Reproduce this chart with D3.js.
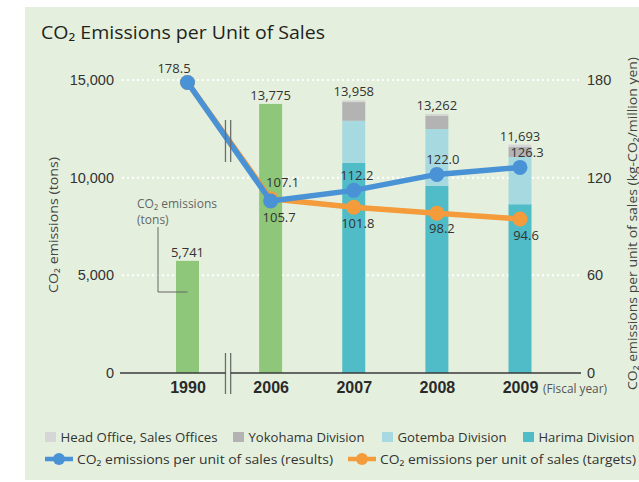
<!DOCTYPE html>
<html><head><meta charset="utf-8">
<script src="https://cdn.jsdelivr.net/npm/d3@7"></script>
<style>html,body{margin:0;padding:0;background:#fff;} svg{display:block;font-family:"Open Sans","Noto Sans",sans-serif;}</style>
</head><body><svg id="chart" width="639" height="482"></svg>
<script>
// ---------- data ----------
const categories = ["1990", "2006", "2007", "2008", "2009"];
const totalEmissions = [5741, 13775, 13958, 13262, 11693];
const singleBar = [5741, 13775, null, null, null];
const harima = [0, 0, 10760, 9590, 8640];
const gotemba = [0, 0, 2150, 2900, 2420];
const yokohama = [0, 0, 960, 683, 510];
const headOffice = [0, 0, 88, 89, 123];
const resultsPerSales = [178.5, 105.7, 112.2, 122.0, 126.3];
const targetsPerSales = [178.5, 107.1, 101.8, 98.2, 94.6];
const leftTicks = [0, 5000, 10000, 15000];
const rightTicks = [0, 60, 120, 180];
const legendBars = ["Head Office, Sales Offices", "Yokohama Division", "Gotemba Division", "Harima Division"];
const legendLines = ["CO\u2082 emissions per unit of sales (results)", "CO\u2082 emissions per unit of sales (targets)"];

// ---------- styles / layout ----------
const colors = {
  bg: "#e4f0dd", green: "#8ec77a", harima: "#4fbcc8", gotemba: "#a6d9e0",
  yokohama: "#b3b3b3", head: "#d6d6d6", blue: "#4a92d6", orange: "#f49b3b",
  text: "#333", dark: "#231f20"
};
const svg = d3.select("#chart");
const W = 639, H = 482;
const x = d3.scalePoint().domain(categories).range([187.5, 520]);
const yL = d3.scaleLinear().domain([0, 15000]).range([373, 80]);
const yR = d3.scaleLinear().domain([0, 180]).range([373, 80]);
const barW = 23;
const plotL = 120, plotR = 581;

function fit(sel, len) { return sel.attr("textLength", len).attr("lengthAdjust", "spacingAndGlyphs"); }

// panel
svg.append("rect").attr("x", 25).attr("y", 7).attr("width", W - 25).attr("height", 473).attr("fill", colors.bg);

// title
fit(svg.append("text").attr("x", 41).attr("y", 39.3).attr("font-size", 17.5).attr("fill", colors.dark)
  .text("CO\u2082 Emissions per Unit of Sales"), 284);

// gridlines
svg.append("g").selectAll("line").data(leftTicks.filter(d => d > 0)).join("line")
  .attr("x1", plotL + 2).attr("x2", plotR).attr("y1", d => yL(d)).attr("y2", d => yL(d))
  .attr("stroke", "#fff").attr("stroke-width", 2).attr("stroke-dasharray", "2,3");

// single bars (1990, 2006)
svg.append("g").selectAll("rect").data(categories.map((c, i) => ({ c, v: singleBar[i] })).filter(d => d.v != null))
  .join("rect").attr("x", d => x(d.c) - barW / 2).attr("width", barW)
  .attr("y", d => yL(d.v)).attr("height", d => yL(0) - yL(d.v)).attr("fill", colors.green);

// stacked bars (2007-2009)
const rows = categories.map((c, i) => ({ c, harima: harima[i], gotemba: gotemba[i], yokohama: yokohama[i], head: headOffice[i] }))
  .filter(r => r.harima > 0);
const keys = ["harima", "gotemba", "yokohama", "head"];
const stack = d3.stack().keys(keys)(rows);
svg.append("g").selectAll("g").data(stack).join("g").attr("fill", d => colors[d.key])
  .selectAll("rect").data(d => d).join("rect")
  .attr("x", d => x(d.data.c) - barW / 2).attr("width", barW)
  .attr("y", d => yL(d[1])).attr("height", d => yL(d[0]) - yL(d[1]));

// lines
const lineGen = d3.line().x((d, i) => x(categories[i])).y(d => yR(d));
function drawSeries(vals, color) {
  svg.append("path").datum(vals).attr("d", lineGen).attr("fill", "none")
    .attr("stroke", color).attr("stroke-width", 5.5).attr("stroke-linejoin", "round");
  svg.append("g").selectAll("circle").data(vals).join("circle")
    .attr("cx", (d, i) => x(categories[i])).attr("cy", d => yR(d)).attr("r", 7.5).attr("fill", color);
}
drawSeries(targetsPerSales, colors.orange);
drawSeries(resultsPerSales, colors.blue);

// break marks
const brk = (x(categories[0]) + x(categories[1])) / 2 - 1;
[[120, 162], [353, 394]].forEach(([a, b]) => {
  if (a > 300) svg.append("rect").attr("x", brk - 2.6).attr("y", a).attr("width", 5.2).attr("height", b - a).attr("fill", colors.bg);
  [-2.6, 2.6].forEach(o => svg.append("line").attr("x1", brk + o).attr("x2", brk + o).attr("y1", a).attr("y2", b)
    .attr("stroke", "#6d6d6d").attr("stroke-width", 1.3));
});

// baseline (with break gap)
svg.append("line").attr("x1", plotL).attr("x2", brk - 2.6).attr("y1", yL(0)).attr("y2", yL(0)).attr("stroke", "#3a3a3a").attr("stroke-width", 1.5);
svg.append("line").attr("x1", brk + 2.6).attr("x2", plotR).attr("y1", yL(0)).attr("y2", yL(0)).attr("stroke", "#3a3a3a").attr("stroke-width", 1.5);

// axes
const axL = svg.append("g").attr("transform", `translate(${plotL - 1},0)`)
  .call(d3.axisLeft(yL).tickValues(leftTicks).tickSize(0).tickPadding(5).tickFormat(d3.format(",")));
const axR = svg.append("g").attr("transform", `translate(${plotR},0)`)
  .call(d3.axisRight(yR).tickValues(rightTicks).tickSize(0).tickPadding(6));
const axB = svg.append("g").attr("transform", `translate(0,${yL(0)})`)
  .call(d3.axisBottom(x).tickSize(0).tickPadding(9));
[axL, axR, axB].forEach(a => { a.select(".domain").remove(); a.selectAll("text").attr("fill", colors.text).attr("font-family", null); });
axL.selectAll("text").attr("font-size", 14.5);
axR.selectAll("text").attr("font-size", 14.5);
axB.selectAll("text").attr("font-size", 16).attr("font-weight", "bold").attr("fill", "#2a2a2a");

fit(svg.append("text").attr("x", 543).attr("y", 393).attr("font-size", 12).attr("fill", "#555").text("(Fiscal year)"), 64);

// axis titles
fit(svg.append("text").attr("transform", "translate(57.5,225) rotate(-90)").attr("text-anchor", "middle")
  .attr("font-size", 13.5).attr("fill", "#444").text("CO\u2082 emissions (tons)"), 136);
fit(svg.append("text").attr("transform", "translate(636.5,223.5) rotate(-90)").attr("text-anchor", "middle")
  .attr("font-size", 13.5).attr("fill", "#444").text("CO\u2082 emissions per unit of sales (kg-CO\u2082/million yen)"), 333);

// annotation
fit(svg.append("text").attr("x", 137).attr("y", 208).attr("font-size", 12).attr("fill", "#666").text("CO\u2082 emissions"), 80);
svg.append("text").attr("x", 137).attr("y", 224).attr("font-size", 12).attr("fill", "#666").text("(tons)");
svg.append("polyline").attr("points", `158,227 158,292 ${x(categories[0])},292`).attr("fill", "none").attr("stroke", "#666").attr("stroke-width", 1);

// total labels
const fmt = d3.format(",");
svg.append("g").selectAll("text").data(totalEmissions).join("text")
  .attr("x", (d, i) => x(categories[i])).attr("y", d => yL(d) - 4).attr("text-anchor", "middle")
  .attr("font-size", 13).attr("fill", colors.text).text(d => fmt(d));

// per-sales labels
const resOffsets = [[-13.5, -9.5], [8.5, 21], [3, -10], [6, -10.5], [7, -10.5]];
const tgtOffsets = [null, [12, -11.7], [4, 20.7], [5, 20], [6, 21]];
const f1 = d3.format(".1f");
svg.append("g").selectAll("text").data(resultsPerSales).join("text")
  .attr("x", (d, i) => x(categories[i]) + resOffsets[i][0]).attr("y", d => yR(d)).attr("dy", (d, i) => resOffsets[i][1])
  .attr("text-anchor", "middle").attr("font-size", 13).attr("fill", colors.text).text(d => f1(d));
svg.append("g").selectAll("text").data(targetsPerSales.map((v, i) => ({ v, i })).filter(d => tgtOffsets[d.i])).join("text")
  .attr("x", d => x(categories[d.i]) + tgtOffsets[d.i][0]).attr("y", d => yR(d.v)).attr("dy", d => tgtOffsets[d.i][1])
  .attr("text-anchor", "middle").attr("font-size", 13).attr("fill", colors.text).text(d => f1(d.v));

// legend
const legBarColors = [colors.head, colors.yokohama, colors.gotemba, colors.harima];
const legBarX = [45, 233, 382, 523];
const legBarLen = [157, 116, 109, 96];
legendBars.forEach((t, i) => {
  svg.append("rect").attr("x", legBarX[i]).attr("y", 432).attr("width", 11).attr("height", 10).attr("fill", legBarColors[i]);
  fit(svg.append("text").attr("x", legBarX[i] + 15.5).attr("y", 441.7).attr("font-size", 13.5).attr("fill", colors.text).text(t), legBarLen[i]);
});
const legLineColors = [colors.blue, colors.orange];
const legLineX = [45, 348];
legendLines.forEach((t, i) => {
  const x0 = legLineX[i];
  svg.append("line").attr("x1", x0).attr("x2", x0 + 28).attr("y1", 459).attr("y2", 459).attr("stroke", legLineColors[i]).attr("stroke-width", 4.5);
  svg.append("circle").attr("cx", x0 + 14).attr("cy", 459).attr("r", 6).attr("fill", legLineColors[i]);
  fit(svg.append("text").attr("x", x0 + 32).attr("y", 463.5).attr("font-size", 13.5).attr("fill", colors.text).text(t), 256);
});
</script></body></html>
